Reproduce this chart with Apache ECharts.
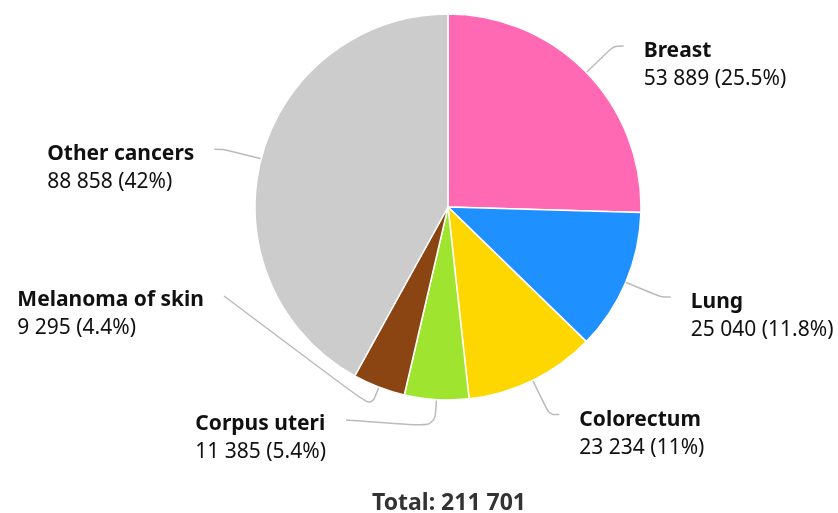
<!DOCTYPE html>
<html>
<head>
<meta charset="utf-8">
<script src="https://cdn.jsdelivr.net/npm/echarts@6/dist/echarts.min.js"></script>
<style>
  html, body { margin: 0; padding: 0; background: #fff; }
  #chart { width: 838px; height: 513px; }
</style>
</head>
<body>
<div id="chart"></div>
<script>
// New cancer cases by site
const sites = ['Breast', 'Lung', 'Colorectum', 'Corpus uteri', 'Melanoma of skin', 'Other cancers'];
const cases = [53889, 25040, 23234, 11385, 9295, 88858];
const shares = ['25.5%', '11.8%', '11%', '5.4%', '4.4%', '42%'];
const colors = ['#FF69B4', '#1E90FF', '#FFD700', '#9FE52F', '#8B4513', '#CCCCCC'];

const fmt = n => String(n).replace(/\B(?=(\d{3})+(?!\d))/g, ' ');
const total = cases.reduce((a, b) => a + b, 0);

const FONT = '"Noto Sans", "Open Sans", sans-serif';
const GAP = 20;      // space between a leader line and its label

// The two small slices at the bottom have their labels lifted to the left,
// so they do not collide with each other or with the total underneath.
// elbow = length of the radial stub before the leader turns toward the label.
const liftedLabels = {
  3: { x: 326, y: 419, elbow: 27 },
  4: { x: 204, y: 295, elbow: 21 }
};

const chart = echarts.init(document.getElementById('chart'), null, { renderer: 'canvas' });

chart.setOption({
  animation: false,
  textStyle: { fontFamily: FONT },
  title: {
    text: 'Total: ' + fmt(total),
    left: 444,
    top: 487,
    textAlign: 'center',
    textStyle: { fontFamily: FONT, fontSize: 23, fontWeight: 'bold', color: '#333' }
  },
  series: [{
    type: 'pie',
    center: [448, 207],
    radius: 193,
    startAngle: 90,
    clockwise: true,
    avoidLabelOverlap: false,
    itemStyle: { borderColor: '#fff', borderWidth: 1.5 },
    label: {
      show: true,
      position: 'outside',
      bleedMargin: 0,
      overflow: 'none',
      distanceToLabelLine: GAP,
      formatter: p => '{n|' + p.name + '}\n{v|' + fmt(p.value) + ' (' + shares[p.dataIndex] + ')}',
      rich: {
        n: { fontFamily: FONT, fontSize: 21, fontWeight: 'bold', color: '#111', lineHeight: 28, align: 'left' },
        v: { fontFamily: FONT, fontSize: 21, color: '#111', lineHeight: 28, align: 'left' }
      },
      padding: [38, 0, 0, 0]
    },
    labelLine: {
      show: true,
      length: 38,
      length2: 10,
      smooth: 0.3,
      lineStyle: { color: '#bbb', width: 1.5 }
    },
    labelLayout: function (params) {
      const lift = liftedLabels[params.dataIndex];
      if (!lift || !params.labelLinePoints) return {};
      const p0 = params.labelLinePoints[0];
      const q = params.labelLinePoints[1];
      const dx = q[0] - p0[0], dy = q[1] - p0[1];
      const d = Math.sqrt(dx * dx + dy * dy) || 1;
      const p1 = [p0[0] + dx / d * lift.elbow, p0[1] + dy / d * lift.elbow];
      return {
        x: lift.x,
        y: lift.y,
        labelLinePoints: [p0, p1, [lift.x + GAP, lift.y + 1]]
      };
    },
    data: sites.map((s, i) => ({ name: s, value: cases[i], itemStyle: { color: colors[i] } }))
  }]
});
</script>
</body>
</html>
